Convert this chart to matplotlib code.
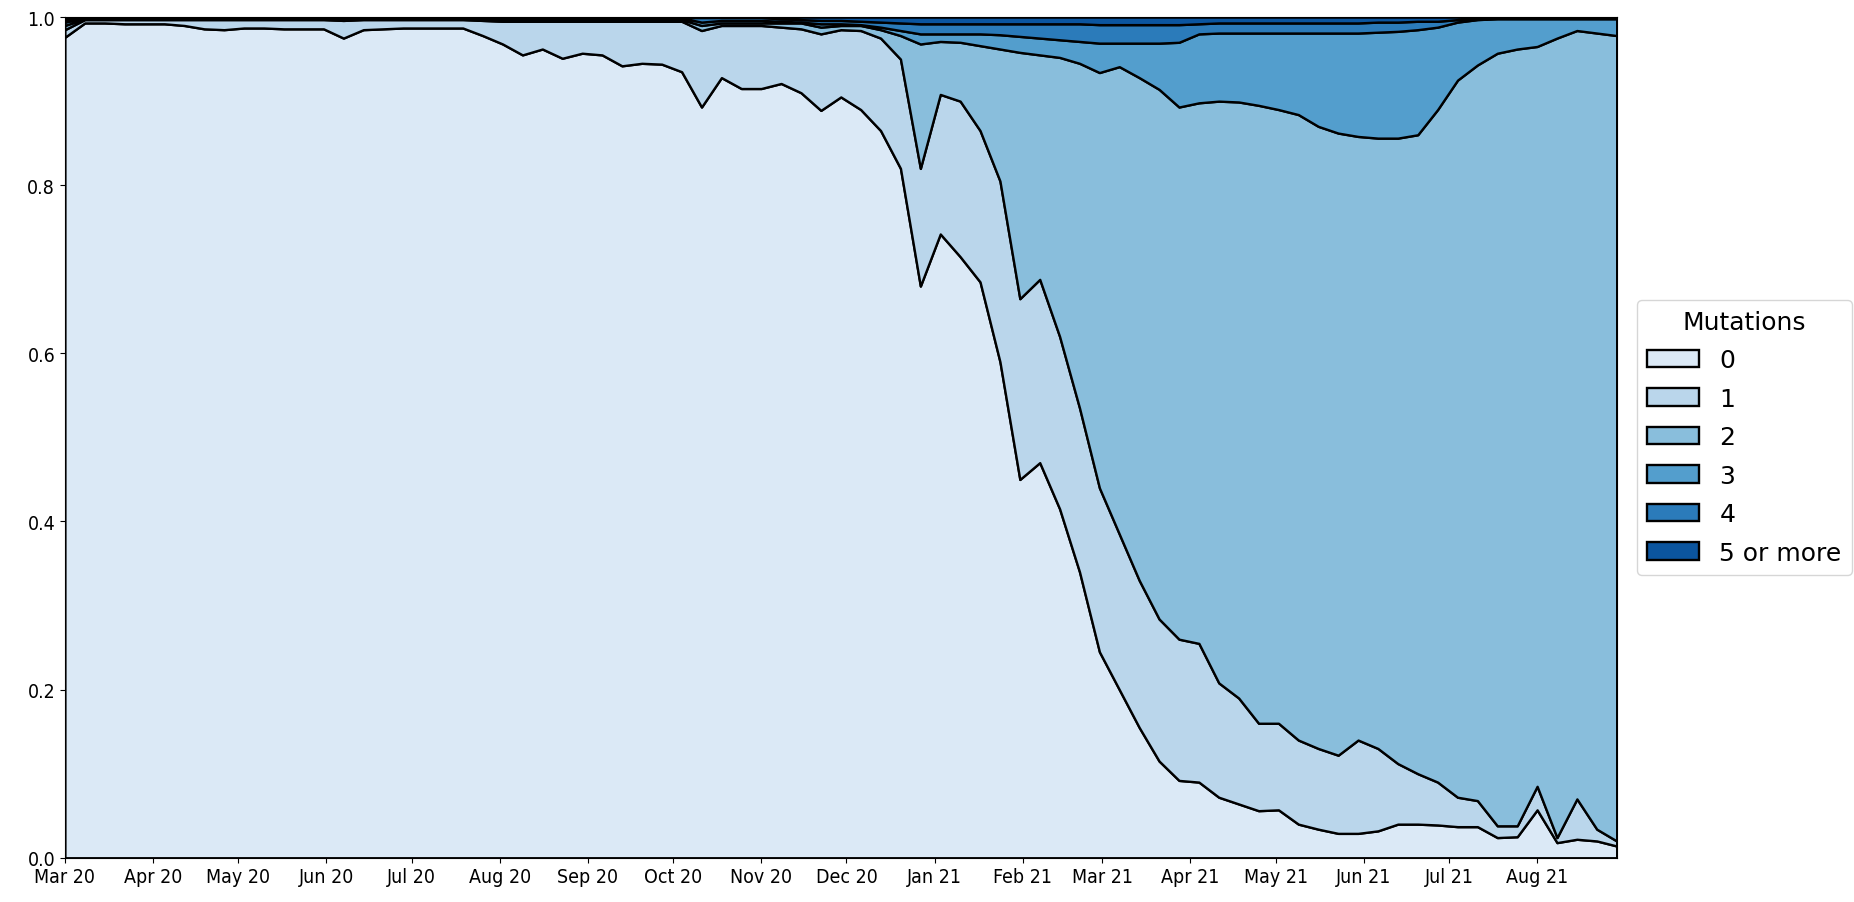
import numpy as np
import pandas as pd
import matplotlib
matplotlib.use('Agg')
import matplotlib.pyplot as plt
import matplotlib.dates as mdates

# weekly share of sequences, cumulative by number of mutations
weeks = pd.date_range('2020-03-01', periods=79, freq='7D')
labels = ['0', '1', '2', '3', '4', '5 or more']

upto_0 = [0.976, 0.993, 0.993, 0.992, 0.992, 0.992, 0.990, 0.986, 0.985, 0.987,
          0.987, 0.986, 0.986, 0.986, 0.975, 0.985, 0.986, 0.987, 0.987, 0.987,
          0.987, 0.978, 0.968, 0.955, 0.962, 0.951, 0.957, 0.955, 0.942, 0.945,
          0.944, 0.935, 0.893, 0.928, 0.915, 0.915, 0.921, 0.910, 0.889, 0.905,
          0.890, 0.865, 0.820, 0.680, 0.742, 0.715, 0.685, 0.590, 0.450, 0.470,
          0.415, 0.340, 0.245, 0.200, 0.155, 0.115, 0.092, 0.090, 0.072, 0.064,
          0.056, 0.057, 0.040, 0.034, 0.029, 0.029, 0.032, 0.040, 0.040, 0.039,
          0.037, 0.037, 0.024, 0.025, 0.057, 0.018, 0.022, 0.020, 0.014]
upto_1 = [0.985, 0.997, 0.997, 0.997, 0.997, 0.997, 0.997, 0.997, 0.997, 0.997,
          0.997, 0.997, 0.997, 0.997, 0.996, 0.997, 0.997, 0.997, 0.997, 0.997,
          0.997, 0.996, 0.995, 0.995, 0.995, 0.995, 0.995, 0.995, 0.995, 0.995,
          0.995, 0.995, 0.984, 0.990, 0.990, 0.990, 0.988, 0.986, 0.980, 0.985,
          0.984, 0.975, 0.950, 0.820, 0.908, 0.900, 0.865, 0.805, 0.665, 0.688,
          0.620, 0.535, 0.440, 0.385, 0.330, 0.284, 0.260, 0.255, 0.208, 0.190,
          0.160, 0.160, 0.140, 0.130, 0.122, 0.140, 0.130, 0.112, 0.100, 0.090,
          0.072, 0.068, 0.038, 0.038, 0.085, 0.024, 0.070, 0.034, 0.020]
upto_2 = [0.990, 0.998, 0.998, 0.998, 0.998, 0.998, 0.998, 0.998, 0.998, 0.998,
          0.998, 0.998, 0.998, 0.998, 0.998, 0.998, 0.998, 0.998, 0.998, 0.998,
          0.998, 0.997, 0.997, 0.997, 0.997, 0.997, 0.997, 0.997, 0.997, 0.997,
          0.997, 0.997, 0.990, 0.993, 0.993, 0.993, 0.993, 0.993, 0.988, 0.990,
          0.990, 0.985, 0.978, 0.968, 0.971, 0.970, 0.966, 0.962, 0.958, 0.955,
          0.952, 0.945, 0.934, 0.941, 0.928, 0.914, 0.893, 0.898, 0.900, 0.899,
          0.895, 0.890, 0.884, 0.870, 0.862, 0.858, 0.856, 0.856, 0.860, 0.890,
          0.925, 0.943, 0.957, 0.962, 0.965, 0.975, 0.984, 0.981, 0.978]
upto_3 = [0.994, 0.999, 0.999, 0.999, 0.999, 0.999, 0.999, 0.999, 0.999, 0.999,
          0.999, 0.999, 0.999, 0.999, 0.999, 0.999, 0.999, 0.999, 0.999, 0.999,
          0.999, 0.999, 0.999, 0.999, 0.999, 0.999, 0.999, 0.999, 0.999, 0.999,
          0.999, 0.999, 0.994, 0.996, 0.996, 0.996, 0.995, 0.994, 0.992, 0.992,
          0.991, 0.988, 0.984, 0.980, 0.980, 0.980, 0.980, 0.979, 0.977, 0.975,
          0.973, 0.971, 0.969, 0.969, 0.969, 0.969, 0.970, 0.980, 0.981, 0.981,
          0.981, 0.981, 0.981, 0.981, 0.981, 0.981, 0.982, 0.983, 0.985, 0.988,
          0.994, 0.997, 0.998, 0.998, 0.998, 0.998, 0.998, 0.998, 0.998]
upto_4 = [0.997] + [0.9995] * 35 + [0.998, 0.997, 0.996, 0.996, 0.995, 0.994,
          0.993, 0.992, 0.992, 0.992, 0.992, 0.992, 0.992, 0.992, 0.992, 0.992,
          0.991, 0.991, 0.991, 0.991, 0.991, 0.992, 0.993, 0.993, 0.993, 0.993,
          0.993, 0.993, 0.993, 0.993, 0.994, 0.994, 0.995, 0.995,
          0.997, 0.998, 0.999, 0.999, 0.999, 0.999, 0.999, 0.999, 0.999]
upto_5 = [1.0] * 79

bounds = [np.zeros(79), upto_0, upto_1, upto_2, upto_3, upto_4, upto_5]
colors = plt.cm.Blues(np.linspace(0, 1, 8)[1:-1])

fig = plt.figure(figsize=(18.54, 9.03), dpi=100)
ax = fig.add_axes([0.035, 0.049, 0.837, 0.931])

for k in range(6):
    ax.fill_between(weeks, bounds[k], bounds[k + 1], facecolor=colors[k],
                    edgecolor='black', linewidth=1.7, label=labels[k])

ax.set_xlim(weeks[0], weeks[-1])
ax.set_ylim(0, 1)
ax.set_yticks([0, 0.2, 0.4, 0.6, 0.8, 1.0])
ax.xaxis.set_major_locator(mdates.MonthLocator())
ax.xaxis.set_major_formatter(mdates.DateFormatter('%b %y'))
ax.tick_params(labelsize=14)
for t in ax.get_xticklabels() + ax.get_yticklabels():
    t.set_fontstretch('condensed')

leg = ax.legend(title='Mutations', loc='center left', bbox_to_anchor=(1.005, 0.5),
                fontsize=18, title_fontsize=18, handlelength=2.1, labelspacing=0.58)

fig.savefig('out.png', dpi=100)
